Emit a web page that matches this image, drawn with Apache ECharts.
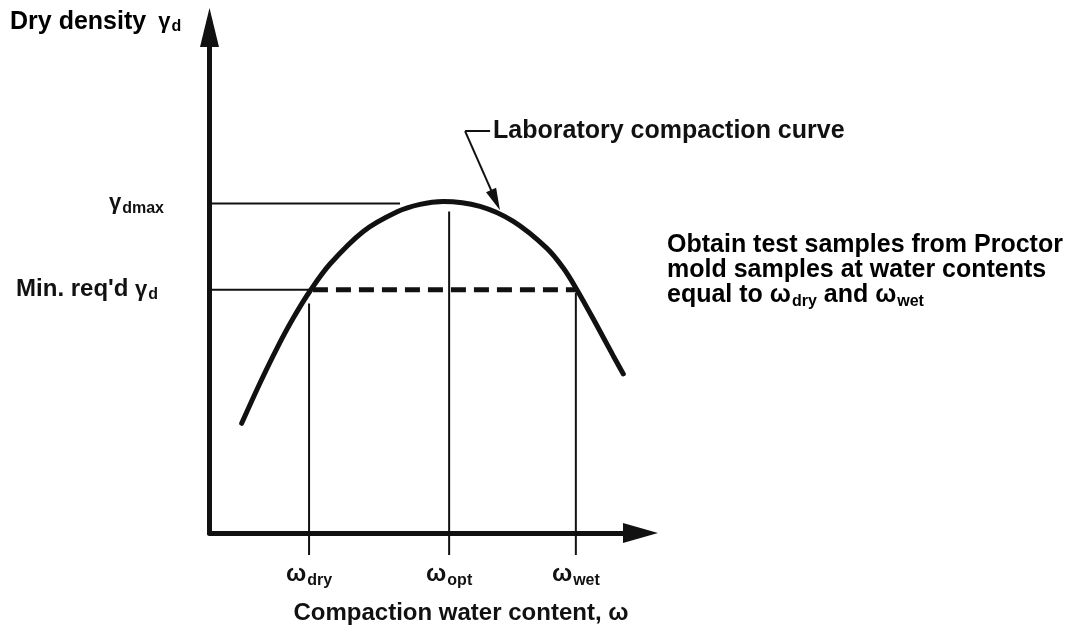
<!DOCTYPE html>
<html>
<head>
<meta charset="utf-8">
<script src="https://cdn.jsdelivr.net/npm/echarts@6/dist/echarts.min.js"></script>
<style>
  html, body { margin: 0; padding: 0; background: #fff; }
  #chart { width: 1073px; height: 640px; }
</style>
</head>
<body>
<div id="chart"></div>
<script>
// schematic units: water content 0-100 on x, dry density 0-100 on y
// laboratory compaction curve
const curveW = [7.47, 11.72, 15.59, 19.44, 23.32, 27.96, 35.68, 43.43, 48.84, 54.25, 62.76, 70.49, 78.24, 82.09, 85.2, 89.44, 93.69, 96.01];
const curveG = [21.7, 29.67, 36.44, 42.51, 47.87, 53.21, 59.66, 63.5, 65.02, 65.58, 64.61, 61.64, 56.36, 52.42, 48.19, 41.74, 35.03, 31.47];

// water contents marked on the x axis
const wNames = ["dry", "opt", "wet"];
const wValues = [23.1, 55.6, 85.0];
const wTops = [45.4, 63.6, 47.5];
const wTickEnd = -4.35;

// dry density levels
const gMax = 65.2;
const gMin = 48.1;
const gMaxLine = [-5.7, 44.2];
const gMinLine = [-4.5, 23.3];
const gMinDash = [24.0, 85.0];

// leader for the curve label
const leaderW = [59.3, 65.1, 66.36];
const leaderG = [79.5, 79.5, 65.86];

const ink = "#111";
const font = "'Liberation Sans', Arial, sans-serif";

const sub = (size, pad) => ({ fontSize: size, fontWeight: "bold", fontFamily: font, color: ink, padding: [pad, 0, 0, 1] });
const big = (size) => ({ fontSize: size, fontWeight: "bold", fontFamily: font, color: ink });

const chart = echarts.init(document.getElementById("chart"));

const thin = (data) => ({
  type: "line",
  data: data,
  symbol: "none",
  clip: false,
  silent: true,
  lineStyle: { color: ink, width: 2 },
  z: 2,
});

const series = [];

// curve
series.push({
  type: "line",
  data: curveW.map((w, i) => [w, curveG[i]]),
  smooth: 0.35,
  symbol: "none",
  clip: false,
  silent: true,
  lineStyle: { color: ink, width: 5, cap: "round" },
  z: 4,
  markLine: {
    silent: true,
    symbol: ["none", "triangle"],
    symbolSize: [11, 22],
    lineStyle: { color: ink, width: 2, type: "solid" },
    label: { show: false },
    data: [
      [
        { coord: [leaderW[0], leaderG[0]], symbol: "none" },
        {
          coord: [leaderW[1], leaderG[1]],
          symbol: "none",
          label: {
            show: true,
            position: "end",
            distance: 3,
            formatter: "Laboratory compaction curve",
            ...big(25),
          },
        },
      ],
      [
        { coord: [leaderW[0], leaderG[0]], symbol: "none" },
        { coord: [leaderW[2], leaderG[2]] },
      ],
    ],
  },
});

// level lines
series.push(thin([[gMaxLine[0], gMax], [gMaxLine[1], gMax]]));
series.push(thin([[gMinLine[0], gMin], [gMinLine[1], gMin]]));
series.push({
  type: "line",
  data: [[gMinDash[0], gMin], [gMinDash[1], gMin]],
  symbol: "none",
  clip: false,
  silent: true,
  lineStyle: { color: ink, width: 5, type: [15, 8] },
  z: 3,
});

// vertical lines down to the ticks
wValues.forEach((w, i) => {
  series.push(thin([[w, wTops[i]], [w, wTickEnd]]));
});

// labels
const labelData = [];
wValues.forEach((w, i) => {
  labelData.push({
    value: [w, wTickEnd],
    label: {
      show: true,
      position: "bottom",
      distance: 4,
      color: ink,
      formatter: "{w|ω}{s|" + wNames[i] + "}",
      rich: { w: big(24), s: sub(16, 14) },
    },
  });
});
labelData.push({
  value: [gMaxLine[0], gMax],
  label: {
    show: true,
    position: "left",
    distance: 21,
    color: ink,
    formatter: "{g|γ}{s|dmax}",
    rich: { g: big(22), s: sub(16, 10) },
  },
});
labelData.push({
  value: [gMinLine[0], gMin],
  label: {
    show: true,
    position: "left",
    distance: 32,
    color: ink,
    formatter: "{t|Min. req'd }{g|γ}{s|d}",
    rich: { t: big(24), g: big(22), s: sub(16, 10) },
  },
});
series.push({
  type: "scatter",
  data: labelData,
  symbol: "circle",
  symbolSize: 0,
  clip: false,
  silent: true,
  itemStyle: { color: ink, opacity: 1 },
  z: 5,
});

chart.setOption({
  animation: false,
  backgroundColor: "#fff",
  grid: { left: 209.5, right: 432.5, top: 27.5, bottom: 107 },
  xAxis: {
    type: "value",
    min: 0,
    max: 100,
    axisLine: {
      show: true,
      symbol: ["none", "triangle"],
      symbolSize: [20, 35],
      lineStyle: { color: ink, width: 5 },
    },
    axisTick: { show: false },
    axisLabel: { show: false },
    splitLine: { show: false },
  },
  yAxis: {
    type: "value",
    min: 0,
    max: 100,
    axisLine: {
      show: true,
      symbol: ["none", "triangle"],
      symbolSize: [19, 39],
      lineStyle: { color: ink, width: 5 },
    },
    axisTick: { show: false },
    axisLabel: { show: false },
    splitLine: { show: false },
  },
  graphic: [
    {
      type: "text",
      x: 10,
      y: 22,
      style: {
        text: "{t|Dry density}{g|γ}{s|d}",
        align: "left",
        verticalAlign: "middle",
        rich: {
          t: big(25),
          g: { ...big(22), padding: [0, 0, 0, 12] },
          s: sub(16, 10),
        },
      },
    },
    {
      type: "text",
      x: 461,
      y: 613,
      style: {
        text: "Compaction water content, ω",
        align: "center",
        verticalAlign: "middle",
        font: "bold 24px " + font,
        fill: ink,
      },
    },
    {
      type: "text",
      x: 667,
      y: 233,
      style: {
        text:
          "{t|Obtain test samples from Proctor}\n{t|mold samples at water contents}\n{t|equal to }{g|ω}{s|dry}{t| and }{g|ω}{s|wet}",
        align: "left",
        verticalAlign: "top",
        rich: {
          t: { ...big(25), lineHeight: 25 },
          g: { ...big(25), lineHeight: 25 },
          s: { ...sub(16, 12), lineHeight: 25 },
        },
      },
    },
  ],
  series: series,
});
</script>
</body>
</html>
